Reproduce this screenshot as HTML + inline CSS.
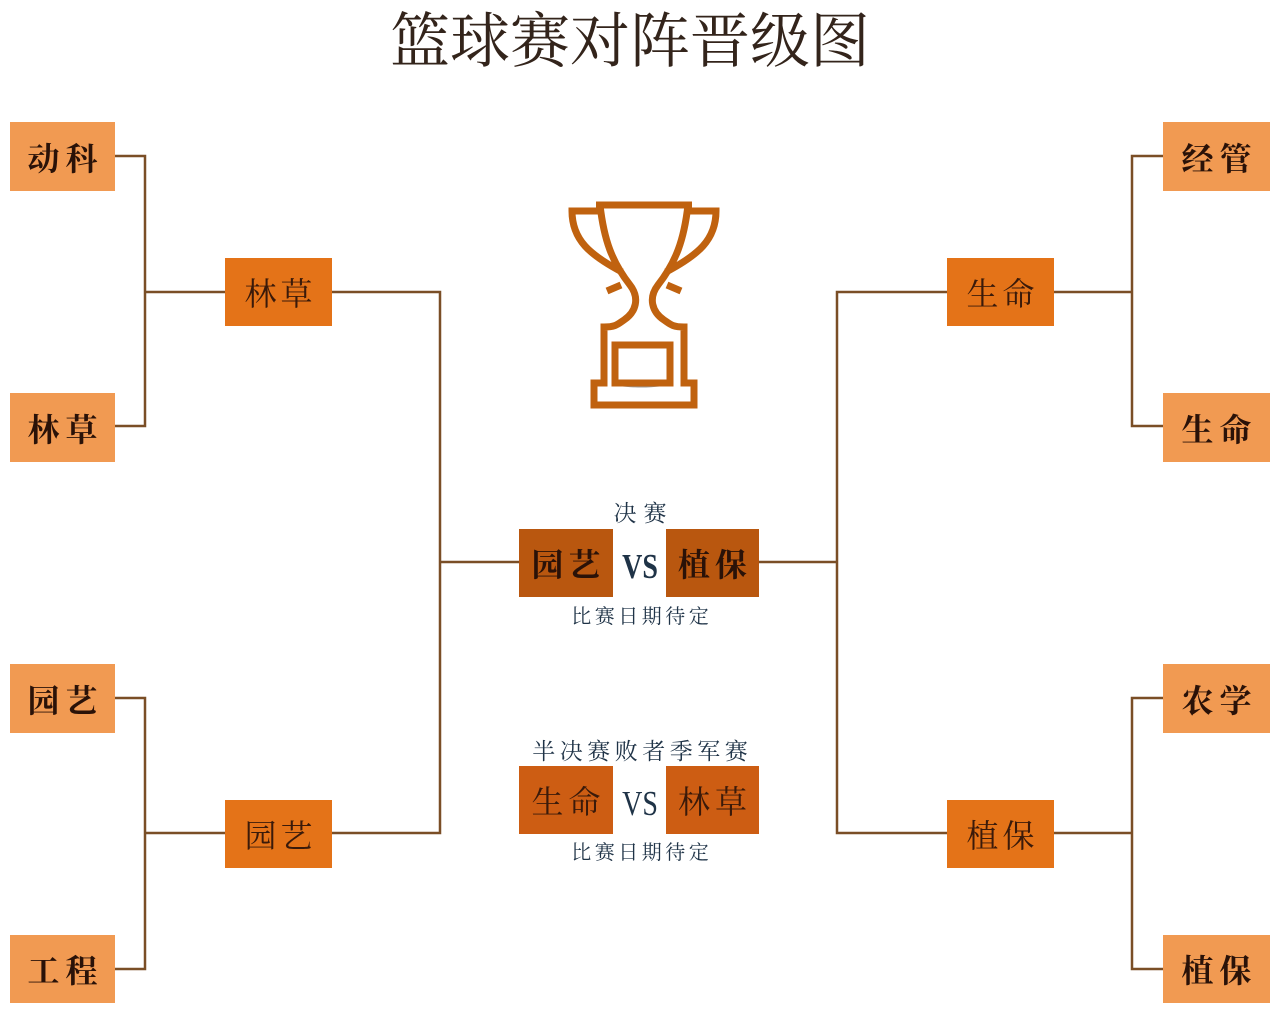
<!DOCTYPE html>
<html><head><meta charset="utf-8">
<style>
html,body{margin:0;padding:0;background:#fff;}
body{width:1280px;height:1014px;position:relative;overflow:hidden;font-family:"Liberation Serif","Noto Serif CJK SC",serif;}
.b{position:absolute;display:flex;align-items:center;justify-content:center;box-sizing:border-box;}
.l{background:#f19a52;color:#2a1208;font-weight:bold;font-size:32px;letter-spacing:6px;padding-left:6px;}
.s{background:#e47318;color:#3a1a0a;font-size:32px;letter-spacing:4px;padding-left:4px;}
.f{background:#b9570f;color:#2a1208;font-weight:bold;font-size:32px;letter-spacing:5px;padding-left:5px;}
.t{background:#cd5d13;color:#3a1a0a;font-size:32px;letter-spacing:5px;padding-left:5px;}
.txt{position:absolute;left:0;width:1280px;text-align:center;color:#1f3347;white-space:nowrap;}
.vs{position:absolute;color:#1f3347;font-family:"Liberation Serif",serif;font-size:35px;width:60px;text-align:center;left:610px;transform:scaleX(0.8);}
</style></head><body>
<div class="txt" style="top:4px;font-size:60px;line-height:76px;color:#33241b;left:-10px;">篮球赛对阵晋级图</div>

<svg width="1280" height="1014" style="position:absolute;left:0;top:0" xmlns="http://www.w3.org/2000/svg">
<g fill="none" stroke="#7a4e26" stroke-width="2.5">
<path d="M115 156 H145 V426 H115 M145 292 H225 M332 292 H440 V833 H332 M145 833 H225 M115 698 H145 V969 H115 M440 562 H519"/>
<path d="M1163 156 H1132 V426 H1163 M1132 292 H1054 M947 292 H837 V833 H947 M1054 833 H1132 M1163 698 H1132 V969 H1163 M837 562 H759"/>
</g>
<ellipse cx="641" cy="384" rx="26" ry="3.5" fill="#9a9a9a"/>
<g fill="none" stroke="#c0620f" stroke-width="7" stroke-linejoin="miter">
<path d="M596 205 L692 205"/>
<path d="M600 205 C604 240,612 262,630 285 C640 298,636 312,624 320 C618 324,616 327,604 327 L604 383 L594 383 L594 405 L694 405 L694 383 L684 383 L684 327 C672 327,670 324,664 320 C652 312,648 298,658 285 C676 262,684 240,688 205"/>
<path d="M600 211 L572 211 C572 240,590 255,622 272"/>
<path d="M688 211 L716 211 C716 240,698 255,666 272"/>
<path d="M607 291 L621 285 M681 291 L667 285"/>
<rect x="615" y="345" width="55" height="38"/>
</g>
</svg>

<div class="b l" style="left:10px;top:122px;width:105px;height:69px;">动科</div>
<div class="b l" style="left:10px;top:393px;width:105px;height:69px;">林草</div>
<div class="b l" style="left:10px;top:664px;width:105px;height:69px;">园艺</div>
<div class="b l" style="left:10px;top:935px;width:105px;height:68px;">工程</div>

<div class="b l" style="left:1163px;top:122px;width:107px;height:69px;">经管</div>
<div class="b l" style="left:1163px;top:393px;width:107px;height:69px;">生命</div>
<div class="b l" style="left:1163px;top:664px;width:107px;height:69px;">农学</div>
<div class="b l" style="left:1163px;top:935px;width:107px;height:68px;">植保</div>

<div class="b s" style="left:225px;top:258px;width:107px;height:68px;">林草</div>
<div class="b s" style="left:225px;top:800px;width:107px;height:68px;">园艺</div>
<div class="b s" style="left:947px;top:258px;width:107px;height:68px;">生命</div>
<div class="b s" style="left:947px;top:800px;width:107px;height:68px;">植保</div>

<div class="txt" style="top:499px;font-size:23px;line-height:30px;letter-spacing:7px;padding-left:7px;box-sizing:border-box;">决赛</div>
<div class="b f" style="left:519px;top:529px;width:94px;height:68px;">园艺</div>
<div class="vs" style="top:546px;line-height:42px;font-weight:bold;">VS</div>
<div class="b f" style="left:666px;top:529px;width:93px;height:68px;">植保</div>
<div class="txt" style="top:603px;font-size:20px;line-height:28px;letter-spacing:3.5px;padding-left:3.5px;box-sizing:border-box;">比赛日期待定</div>

<div class="txt" style="top:736px;font-size:23px;line-height:32px;letter-spacing:4.5px;padding-left:4.5px;box-sizing:border-box;">半决赛败者季军赛</div>
<div class="b t" style="left:519px;top:766px;width:94px;height:68px;">生命</div>
<div class="vs" style="top:783px;line-height:42px;">VS</div>
<div class="b t" style="left:666px;top:766px;width:93px;height:68px;">林草</div>
<div class="txt" style="top:839px;font-size:20px;line-height:28px;letter-spacing:3.5px;padding-left:3.5px;box-sizing:border-box;">比赛日期待定</div>
</body></html>
